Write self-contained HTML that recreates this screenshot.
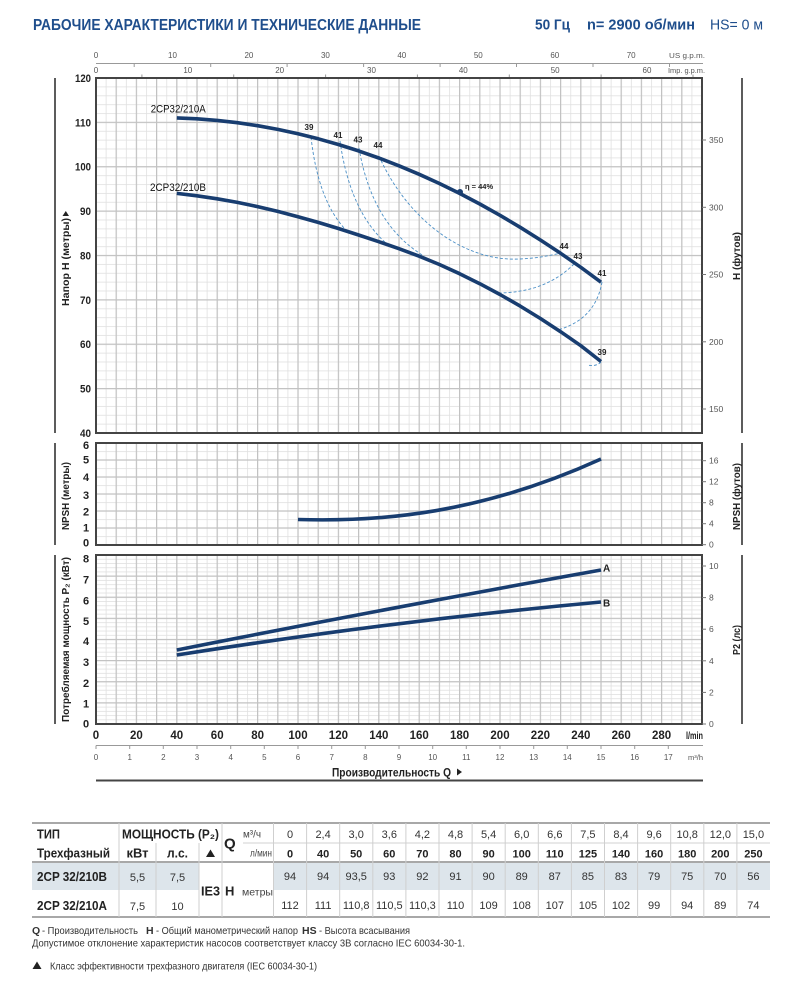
<!DOCTYPE html>
<html><head><meta charset="utf-8"><style>
html,body{margin:0;padding:0;background:#fff;}
svg{display:block;font-family:"Liberation Sans","DejaVu Sans",sans-serif;}
</style></head><body>
<svg width="800" height="981" viewBox="0 0 800 981" xmlns="http://www.w3.org/2000/svg">
<defs>
<pattern id="vmin" x="95.6" y="0" width="10.1" height="20" patternUnits="userSpaceOnUse"><rect x="0" y="0" width="0.8" height="20" fill="#e0e0e0"/></pattern>
<pattern id="vmaj" x="95.4" y="0" width="20.2" height="20" patternUnits="userSpaceOnUse"><rect x="0" y="0" width="1.2" height="20" fill="#c2c2c2"/></pattern>
<pattern id="hminM" x="0" y="77.6" width="20" height="8.875" patternUnits="userSpaceOnUse"><rect x="0" y="0" width="20" height="0.8" fill="#e0e0e0"/></pattern>
<pattern id="hmajM" x="0" y="77.4" width="20" height="44.375" patternUnits="userSpaceOnUse"><rect x="0" y="0" width="20" height="1.2" fill="#c2c2c2"/></pattern>
<pattern id="hminN" x="0" y="442.6" width="20" height="8.5" patternUnits="userSpaceOnUse"><rect x="0" y="0" width="20" height="0.8" fill="#e0e0e0"/></pattern>
<pattern id="hmajN" x="0" y="442.4" width="20" height="17" patternUnits="userSpaceOnUse"><rect x="0" y="0" width="20" height="1.2" fill="#c2c2c2"/></pattern>
<pattern id="hminP" x="0" y="554.6" width="20" height="4.225" patternUnits="userSpaceOnUse"><rect x="0" y="0" width="20" height="0.8" fill="#e0e0e0"/></pattern>
<pattern id="hmajP" x="0" y="554.4" width="20" height="21.125" patternUnits="userSpaceOnUse"><rect x="0" y="0" width="20" height="1.2" fill="#c2c2c2"/></pattern>
</defs>
<rect width="800" height="981" fill="#fff"/>

<!-- Header -->
<text x="33" y="30" font-size="16" font-weight="bold" fill="#1f4e8c" textLength="388" lengthAdjust="spacingAndGlyphs">РАБОЧИЕ ХАРАКТЕРИСТИКИ И ТЕХНИЧЕСКИЕ ДАННЫЕ</text>
<text x="535" y="29.5" font-size="15" font-weight="bold" fill="#1f4e8c" textLength="35" lengthAdjust="spacingAndGlyphs">50 Гц</text>
<text x="587" y="29.5" font-size="15" font-weight="bold" fill="#1f4e8c" textLength="108" lengthAdjust="spacingAndGlyphs">n= 2900 об/мин</text>
<text x="710" y="29.5" font-size="15" fill="#1f4e8c" textLength="53" lengthAdjust="spacingAndGlyphs">HS= 0 м</text>

<!-- Top axes (US gpm / Imp gpm) -->
<g fill="#555" font-size="8" text-anchor="middle">
<text x="96" y="58">0</text><text x="172.5" y="58">10</text><text x="248.9" y="58">20</text><text x="325.4" y="58">30</text><text x="401.8" y="58">40</text><text x="478.3" y="58">50</text><text x="554.8" y="58">60</text><text x="631.2" y="58">70</text>
<text x="96" y="73">0</text><text x="187.8" y="73">10</text><text x="279.7" y="73">20</text><text x="371.5" y="73">30</text><text x="463.3" y="73">40</text><text x="555.2" y="73">50</text><text x="647" y="73">60</text>
</g>
<text x="705" y="58" font-size="7.5" fill="#555" text-anchor="end" textLength="36" lengthAdjust="spacingAndGlyphs">US g.p.m.</text>
<text x="705" y="73" font-size="7.5" fill="#555" text-anchor="end" textLength="37" lengthAdjust="spacingAndGlyphs">Imp. g.p.m.</text>
<line x1="96" y1="63.5" x2="703" y2="63.5" stroke="#999" stroke-width="1"/>
<g stroke="#999" stroke-width="1">
<line x1="134.2" y1="63.5" x2="134.2" y2="67"/><line x1="210.7" y1="63.5" x2="210.7" y2="67"/><line x1="287.1" y1="63.5" x2="287.1" y2="67"/><line x1="363.6" y1="63.5" x2="363.6" y2="67"/><line x1="440.1" y1="63.5" x2="440.1" y2="67"/><line x1="516.5" y1="63.5" x2="516.5" y2="67"/><line x1="593" y1="63.5" x2="593" y2="67"/><line x1="669.5" y1="63.5" x2="669.5" y2="67"/>
<line x1="141.9" y1="74.5" x2="141.9" y2="78"/><line x1="233.7" y1="74.5" x2="233.7" y2="78"/><line x1="325.6" y1="74.5" x2="325.6" y2="78"/><line x1="417.4" y1="74.5" x2="417.4" y2="78"/><line x1="509.3" y1="74.5" x2="509.3" y2="78"/><line x1="601.1" y1="74.5" x2="601.1" y2="78"/><line x1="693" y1="74.5" x2="693" y2="78"/>
</g>

<!-- Main chart grid -->
<rect x="96" y="78" width="606" height="355" fill="url(#vmin)"/>
<rect x="96" y="78" width="606" height="355" fill="url(#hminM)"/>
<rect x="96" y="78" width="606" height="355" fill="url(#vmaj)"/>
<rect x="96" y="78" width="606" height="355" fill="url(#hmajM)"/>
<rect x="96" y="78" width="606" height="355" fill="none" stroke="#444" stroke-width="2"/>

<!-- NPSH grid -->
<rect x="96" y="443" width="606" height="102" fill="url(#vmin)"/>
<rect x="96" y="443" width="606" height="102" fill="url(#hminN)"/>
<rect x="96" y="443" width="606" height="102" fill="url(#vmaj)"/>
<rect x="96" y="443" width="606" height="102" fill="url(#hmajN)"/>
<rect x="96" y="443" width="606" height="102" fill="none" stroke="#444" stroke-width="2"/>

<!-- Power grid -->
<rect x="96" y="555" width="606" height="169" fill="url(#vmin)"/>
<rect x="96" y="555" width="606" height="169" fill="url(#hminP)"/>
<rect x="96" y="555" width="606" height="169" fill="url(#vmaj)"/>
<rect x="96" y="555" width="606" height="169" fill="url(#hmajP)"/>
<rect x="96" y="555" width="606" height="169" fill="none" stroke="#444" stroke-width="2"/>

<!-- Left / right frame lines -->
<g stroke="#333" stroke-width="1.6">
<line x1="55" y1="78" x2="55" y2="433"/><line x1="55" y1="443" x2="55" y2="545"/><line x1="55" y1="555" x2="55" y2="724"/>
<line x1="742" y1="78" x2="742" y2="433"/><line x1="742" y1="443" x2="742" y2="545"/><line x1="742" y1="555" x2="742" y2="724"/>
</g>

<!-- Left tick labels main -->
<g font-size="11" font-weight="bold" fill="#222" text-anchor="end">
<text x="91" y="82" textLength="16" lengthAdjust="spacingAndGlyphs">120</text>
<text x="91" y="126.4" textLength="16" lengthAdjust="spacingAndGlyphs">110</text>
<text x="91" y="170.7" textLength="16" lengthAdjust="spacingAndGlyphs">100</text>
<text x="91" y="215.1" textLength="11" lengthAdjust="spacingAndGlyphs">90</text>
<text x="91" y="259.5" textLength="11" lengthAdjust="spacingAndGlyphs">80</text>
<text x="91" y="303.9" textLength="11" lengthAdjust="spacingAndGlyphs">70</text>
<text x="91" y="348.2" textLength="11" lengthAdjust="spacingAndGlyphs">60</text>
<text x="91" y="392.6" textLength="11" lengthAdjust="spacingAndGlyphs">50</text>
<text x="91" y="437" textLength="11" lengthAdjust="spacingAndGlyphs">40</text>
</g>
<g font-size="11" font-weight="bold" fill="#222" text-anchor="middle">
<text x="86" y="449">6</text><text x="86" y="463.5">5</text><text x="86" y="481">4</text><text x="86" y="499">3</text><text x="86" y="515.5">2</text><text x="86" y="531.5">1</text><text x="86" y="546.5">0</text>
<text x="86" y="562.5">8</text><text x="86" y="583.5">7</text><text x="86" y="604.5">6</text><text x="86" y="625">5</text><text x="86" y="645">4</text><text x="86" y="666">3</text><text x="86" y="687">2</text><text x="86" y="707.5">1</text><text x="86" y="727.5">0</text>
</g>

<!-- Right ticks & labels -->
<g stroke="#777" stroke-width="1">
<line x1="702" y1="140" x2="706" y2="140"/><line x1="702" y1="207.3" x2="706" y2="207.3"/><line x1="702" y1="274.5" x2="706" y2="274.5"/><line x1="702" y1="341.8" x2="706" y2="341.8"/><line x1="702" y1="409" x2="706" y2="409"/>
<line x1="702" y1="460.7" x2="706" y2="460.7"/><line x1="702" y1="481.7" x2="706" y2="481.7"/><line x1="702" y1="502.7" x2="706" y2="502.7"/><line x1="702" y1="523.7" x2="706" y2="523.7"/><line x1="702" y1="544.7" x2="706" y2="544.7"/>
<line x1="702" y1="566" x2="706" y2="566"/><line x1="702" y1="597.6" x2="706" y2="597.6"/><line x1="702" y1="629.2" x2="706" y2="629.2"/><line x1="702" y1="660.8" x2="706" y2="660.8"/><line x1="702" y1="692.4" x2="706" y2="692.4"/><line x1="702" y1="724" x2="706" y2="724"/>
</g>
<g font-size="8.5" fill="#555">
<text x="709" y="143">350</text><text x="709" y="210.3">300</text><text x="709" y="277.5">250</text><text x="709" y="344.8">200</text><text x="709" y="412">150</text>
<text x="709" y="463.7">16</text><text x="709" y="484.7">12</text><text x="709" y="505.7">8</text><text x="709" y="526.7">4</text><text x="709" y="547.7">0</text>
<text x="709" y="569">10</text><text x="709" y="600.6">8</text><text x="709" y="632.2">6</text><text x="709" y="663.8">4</text><text x="709" y="695.4">2</text><text x="709" y="727">0</text>
</g>

<!-- Rotated axis titles -->
<g font-size="10.5" font-weight="bold" fill="#222">
<text transform="translate(69,306) rotate(-90)" textLength="88" lengthAdjust="spacingAndGlyphs">Напор H (метры)</text>
<text transform="translate(69,530) rotate(-90)" textLength="68" lengthAdjust="spacingAndGlyphs">NPSH (метры)</text>
<text transform="translate(69,722) rotate(-90)" textLength="165" lengthAdjust="spacingAndGlyphs">Потребляемая мощность P₂ (кВт)</text>
<text transform="translate(740,280) rotate(-90)" textLength="48" lengthAdjust="spacingAndGlyphs">H (футов)</text>
<text transform="translate(740,530) rotate(-90)" textLength="67" lengthAdjust="spacingAndGlyphs">NPSH (футов)</text>
<text transform="translate(740,655) rotate(-90)" textLength="30" lengthAdjust="spacingAndGlyphs">P2 (лс)</text>
</g>
<polygon points="62.5,216 69,216 65.8,211" fill="#222"/>

<!-- Efficiency dashed curves -->
<g fill="none" stroke="#4b8fc6" stroke-width="0.9" stroke-dasharray="3,2">
<path d="M311,137 Q318,200 345,229"/>
<path d="M340,141 Q350,212 387,244"/>
<path d="M359,148 Q372,225 424,256"/>
<path d="M379,156 C405,215 460,262 520,259 C540,258 552,255 561,253"/>
<path d="M574,264 C555,283 530,293 496,293"/>
<path d="M602,282 C598,305 585,322 558,330"/>
<path d="M601,362 Q596,367 587,365"/>
</g>

<!-- Head curves -->
<g fill="none" stroke="#183d70" stroke-width="3.6" stroke-linejoin="round" stroke-linecap="butt">
<polyline points="176.8,117.9 197,118.8 217.2,120.4 237.4,122.7 257.6,125.7 277.8,129.4 298,133.8 318.2,138.8 338.4,144.5 358.6,150.9 378.8,158 399,165.8 419.2,174.3 439.4,183.5 459.6,193.4 479.8,204 500,215.3 520.2,227.3 540.4,240 560.6,253.3 580.8,267.3 601,282.2"/>
<polyline points="176.8,193.4 197,195.8 217.2,198.8 237.4,202.4 257.6,206.6 277.8,211.4 298,216.7 318.2,222.4 338.4,228.5 358.6,235 378.8,241.7 399,248.7 419.2,256.2 439.4,264.5 459.6,273.7 479.8,283.7 500,294.5 520.2,306.1 540.4,318.5 560.6,331.7 580.8,345.7 601,361.5"/>
</g>
<circle cx="460" cy="192" r="3" fill="#183d70"/>
<text x="465" y="189" font-size="7.5" font-weight="bold" fill="#222">η = 44%</text>

<g font-size="8" font-weight="bold" fill="#222" text-anchor="middle">
<text x="309" y="130">39</text><text x="338" y="138">41</text><text x="358" y="142.5">43</text><text x="378" y="148">44</text>
<text x="564" y="249">44</text><text x="578" y="259">43</text><text x="602" y="276">41</text><text x="602" y="355">39</text>
</g>
<text x="150.7" y="112.5" font-size="11" fill="#111" textLength="55" lengthAdjust="spacingAndGlyphs">2CP32/210A</text>
<text x="150" y="190.8" font-size="11" fill="#111" textLength="56" lengthAdjust="spacingAndGlyphs">2CP32/210B</text>

<!-- NPSH curve -->
<path d="M298,519.5 C380,522 480,514 601,459" fill="none" stroke="#183d70" stroke-width="3.6"/>

<!-- Power curves -->
<g fill="none" stroke="#183d70" stroke-width="3.6">
<path d="M176.8,650 Q388.9,608 601,570"/>
<path d="M176.8,655 Q388.9,621.5 601,602"/>
</g>
<text x="603" y="571.5" font-size="10" font-weight="bold" fill="#222">A</text>
<text x="603" y="606.5" font-size="10" font-weight="bold" fill="#222">B</text>

<!-- Bottom axis labels -->
<g font-size="11.5" font-weight="bold" fill="#222" text-anchor="middle">
<text x="96" y="739">0</text><text x="136.4" y="739">20</text><text x="176.8" y="739">40</text><text x="217.2" y="739">60</text><text x="257.6" y="739">80</text><text x="298" y="739">100</text><text x="338.4" y="739">120</text><text x="378.8" y="739">140</text><text x="419.2" y="739">160</text><text x="459.6" y="739">180</text><text x="500" y="739">200</text><text x="540.4" y="739">220</text><text x="580.8" y="739">240</text><text x="621.2" y="739">260</text><text x="661.6" y="739">280</text>
</g>
<text x="703" y="739" font-size="10" font-weight="bold" fill="#222" text-anchor="end" textLength="17" lengthAdjust="spacingAndGlyphs">l/min</text>
<line x1="96" y1="745.5" x2="703" y2="745.5" stroke="#999" stroke-width="1"/>
<g stroke="#999" stroke-width="1">
<line x1="96" y1="745.5" x2="96" y2="749"/><line x1="129.7" y1="745.5" x2="129.7" y2="749"/><line x1="163.3" y1="745.5" x2="163.3" y2="749"/><line x1="197" y1="745.5" x2="197" y2="749"/><line x1="230.7" y1="745.5" x2="230.7" y2="749"/><line x1="264.3" y1="745.5" x2="264.3" y2="749"/><line x1="298" y1="745.5" x2="298" y2="749"/><line x1="331.7" y1="745.5" x2="331.7" y2="749"/><line x1="365.3" y1="745.5" x2="365.3" y2="749"/><line x1="399" y1="745.5" x2="399" y2="749"/><line x1="432.7" y1="745.5" x2="432.7" y2="749"/><line x1="466.3" y1="745.5" x2="466.3" y2="749"/><line x1="500" y1="745.5" x2="500" y2="749"/><line x1="533.7" y1="745.5" x2="533.7" y2="749"/><line x1="567.3" y1="745.5" x2="567.3" y2="749"/><line x1="601" y1="745.5" x2="601" y2="749"/><line x1="634.7" y1="745.5" x2="634.7" y2="749"/><line x1="668.3" y1="745.5" x2="668.3" y2="749"/>
</g>
<g font-size="8" fill="#555" text-anchor="middle">
<text x="96" y="760">0</text><text x="129.7" y="760">1</text><text x="163.3" y="760">2</text><text x="197" y="760">3</text><text x="230.7" y="760">4</text><text x="264.3" y="760">5</text><text x="298" y="760">6</text><text x="331.7" y="760">7</text><text x="365.3" y="760">8</text><text x="399" y="760">9</text><text x="432.7" y="760">10</text><text x="466.3" y="760">11</text><text x="500" y="760">12</text><text x="533.7" y="760">13</text><text x="567.3" y="760">14</text><text x="601" y="760">15</text><text x="634.7" y="760">16</text><text x="668.3" y="760">17</text>
</g>
<text x="703" y="760" font-size="7.5" fill="#555" text-anchor="end">m³/h</text>
<text x="332" y="776.5" font-size="11.5" font-weight="bold" fill="#222" textLength="119" lengthAdjust="spacingAndGlyphs">Производительность Q</text>
<polygon points="457,768.5 457,775.5 462,772" fill="#222"/>
<line x1="96" y1="780.5" x2="703" y2="780.5" stroke="#444" stroke-width="2"/>

<!-- Table -->
<rect x="32" y="863" width="167" height="27" fill="#dde5eb"/>
<rect x="273.5" y="863" width="496.5" height="27" fill="#dde5eb"/>
<line x1="32" y1="823" x2="770" y2="823" stroke="#a8a8a8" stroke-width="2"/>
<line x1="32" y1="862" x2="770" y2="862" stroke="#a8a8a8" stroke-width="2"/>
<line x1="32" y1="917" x2="770" y2="917" stroke="#a8a8a8" stroke-width="2"/>
<line x1="243" y1="843" x2="770" y2="843" stroke="#d0d0d0" stroke-width="1"/>
<g stroke="#cfcfcf" stroke-width="1">
<line x1="119" y1="823" x2="119" y2="917"/>
<line x1="156" y1="843" x2="156" y2="917"/>
<line x1="199" y1="843" x2="199" y2="917"/>
<line x1="222" y1="823" x2="222" y2="917"/>
<line x1="273.5" y1="823" x2="273.5" y2="917"/>
<line x1="306.6" y1="823" x2="306.6" y2="917"/>
<line x1="339.7" y1="823" x2="339.7" y2="917"/>
<line x1="372.8" y1="823" x2="372.8" y2="917"/>
<line x1="405.9" y1="823" x2="405.9" y2="917"/>
<line x1="439" y1="823" x2="439" y2="917"/>
<line x1="472.1" y1="823" x2="472.1" y2="917"/>
<line x1="505.2" y1="823" x2="505.2" y2="917"/>
<line x1="538.3" y1="823" x2="538.3" y2="917"/>
<line x1="571.4" y1="823" x2="571.4" y2="917"/>
<line x1="604.5" y1="823" x2="604.5" y2="917"/>
<line x1="637.6" y1="823" x2="637.6" y2="917"/>
<line x1="670.7" y1="823" x2="670.7" y2="917"/>
<line x1="703.8" y1="823" x2="703.8" y2="917"/>
<line x1="736.9" y1="823" x2="736.9" y2="917"/>
</g>
<g font-weight="bold" fill="#222" font-size="12.5">
<text x="37" y="838.5" textLength="23" lengthAdjust="spacingAndGlyphs">ТИП</text>
<text x="37" y="857.5" textLength="73" lengthAdjust="spacingAndGlyphs">Трехфазный</text>
<text x="122" y="838.5" textLength="97" lengthAdjust="spacingAndGlyphs">МОЩНОСТЬ (P₂)</text>
<text x="137.5" y="857.5" text-anchor="middle" textLength="22" lengthAdjust="spacingAndGlyphs">кВт</text>
<text x="177.5" y="857.5" text-anchor="middle" textLength="21" lengthAdjust="spacingAndGlyphs">л.с.</text>
<text x="37" y="881" textLength="70" lengthAdjust="spacingAndGlyphs">2CP 32/210B</text>
<text x="37" y="910" textLength="70" lengthAdjust="spacingAndGlyphs">2CP 32/210A</text>
<text x="210.5" y="895.5" text-anchor="middle" textLength="19" lengthAdjust="spacingAndGlyphs">IE3</text>
<text x="225" y="895.5" font-size="13">H</text>
<text x="224" y="848.5" font-size="15">Q</text>
</g>
<polygon points="206,857 215,857 210.5,849.5" fill="#222"/>
<g fill="#444" font-size="10">
<text x="243" y="837.5" textLength="18" lengthAdjust="spacingAndGlyphs">м³/ч</text>
<text x="250" y="856.5" textLength="22" lengthAdjust="spacingAndGlyphs">л/мин</text>
<text x="242" y="895.5" textLength="31" lengthAdjust="spacingAndGlyphs">метры</text>
</g>
<g fill="#333" font-size="11" text-anchor="middle">
<text x="137.5" y="881">5,5</text><text x="177.5" y="881">7,5</text>
<text x="137.5" y="910">7,5</text><text x="177.5" y="910">10</text>
</g>
<g fill="#333" font-size="11" text-anchor="middle">
<text x="290" y="838">0</text><text x="323.1" y="838">2,4</text><text x="356.2" y="838">3,0</text><text x="389.3" y="838">3,6</text><text x="422.4" y="838">4,2</text><text x="455.5" y="838">4,8</text><text x="488.6" y="838">5,4</text><text x="521.7" y="838">6,0</text><text x="554.8" y="838">6,6</text><text x="587.9" y="838">7,5</text><text x="621" y="838">8,4</text><text x="654.1" y="838">9,6</text><text x="687.2" y="838">10,8</text><text x="720.3" y="838">12,0</text><text x="753.4" y="838">15,0</text>
</g>
<g fill="#222" font-size="11" font-weight="bold" text-anchor="middle">
<text x="290" y="857.5">0</text><text x="323.1" y="857.5">40</text><text x="356.2" y="857.5">50</text><text x="389.3" y="857.5">60</text><text x="422.4" y="857.5">70</text><text x="455.5" y="857.5">80</text><text x="488.6" y="857.5">90</text><text x="521.7" y="857.5">100</text><text x="554.8" y="857.5">110</text><text x="587.9" y="857.5">125</text><text x="621" y="857.5">140</text><text x="654.1" y="857.5">160</text><text x="687.2" y="857.5">180</text><text x="720.3" y="857.5">200</text><text x="753.4" y="857.5">250</text>
</g>
<g fill="#333" font-size="11" text-anchor="middle">
<text x="290" y="880">94</text><text x="323.1" y="880">94</text><text x="356.2" y="880">93,5</text><text x="389.3" y="880">93</text><text x="422.4" y="880">92</text><text x="455.5" y="880">91</text><text x="488.6" y="880">90</text><text x="521.7" y="880">89</text><text x="554.8" y="880">87</text><text x="587.9" y="880">85</text><text x="621" y="880">83</text><text x="654.1" y="880">79</text><text x="687.2" y="880">75</text><text x="720.3" y="880">70</text><text x="753.4" y="880">56</text>
<text x="290" y="909">112</text><text x="323.1" y="909">111</text><text x="356.2" y="909">110,8</text><text x="389.3" y="909">110,5</text><text x="422.4" y="909">110,3</text><text x="455.5" y="909">110</text><text x="488.6" y="909">109</text><text x="521.7" y="909">108</text><text x="554.8" y="909">107</text><text x="587.9" y="909">105</text><text x="621" y="909">102</text><text x="654.1" y="909">99</text><text x="687.2" y="909">94</text><text x="720.3" y="909">89</text><text x="753.4" y="909">74</text>
</g>

<!-- Footer -->
<g font-size="10.5" fill="#333">
<text x="32" y="934" font-weight="bold">Q</text>
<text x="42" y="934" textLength="96" lengthAdjust="spacingAndGlyphs">- Производительность</text>
<text x="146" y="934" font-weight="bold">H</text>
<text x="156" y="934" textLength="142" lengthAdjust="spacingAndGlyphs">- Общий манометрический напор</text>
<text x="302" y="934" font-weight="bold">HS</text>
<text x="319" y="934" textLength="91" lengthAdjust="spacingAndGlyphs">- Высота всасывания</text>
<text x="32" y="946.5" textLength="433" lengthAdjust="spacingAndGlyphs">Допустимое отклонение характеристик насосов соответствует классу 3B согласно IEC 60034-30-1.</text>
<text x="50" y="969.5" textLength="267" lengthAdjust="spacingAndGlyphs">Класс эффективности трехфазного двигателя (IEC 60034-30-1)</text>
</g>
<polygon points="32.5,969 41.5,969 37,961.5" fill="#222"/>
</svg>
</body></html>
